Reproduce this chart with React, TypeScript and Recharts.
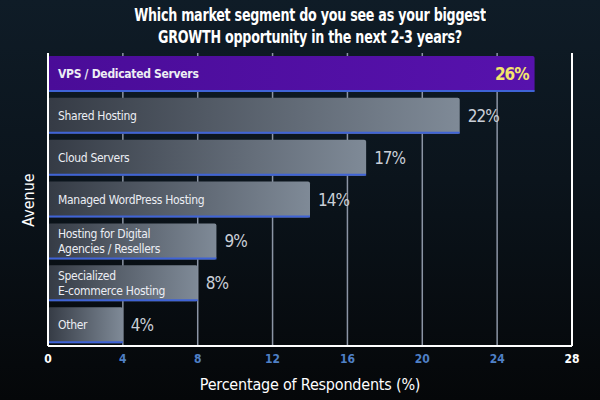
import React from "react";
import {
  BarChart,
  Bar,
  XAxis,
  YAxis,
  CartesianGrid,
  ReferenceLine,
  LabelList,
} from "recharts";

const categories = [
  "VPS / Dedicated Servers",
  "Shared Hosting",
  "Cloud Servers",
  "Managed WordPress Hosting",
  "Hosting for Digital\nAgencies / Resellers",
  "Specialized\nE-commerce Hosting",
  "Other",
];
const values = [26, 22, 17, 14, 9, 8, 4];
const xTicks = [0, 4, 8, 12, 16, 20, 24, 28];
const highlighted = "VPS / Dedicated Servers";

const data = categories.map((name, i) => ({ name, value: values[i] }));

const FONT = '"DejaVu Sans Condensed", "DejaVu Sans", sans-serif';
const narrow = { fontStretch: "condensed" as const };

const BarShape = (props: any) => {
  const { x, y, width, height, payload } = props;
  const hot = payload.name === highlighted;
  return (
    <g>
      <rect
        x={x}
        y={y}
        width={width}
        height={height}
        rx={2}
        fill={hot ? "url(#purpleFill)" : "url(#grayFill)"}
      />
      <line
        x1={x}
        x2={x + width}
        y1={y + height - 1}
        y2={y + height - 1}
        stroke="#3f63d6"
        strokeWidth={2}
      />
    </g>
  );
};

const NameLabel = (props: any) => {
  const { x, y, height, value } = props;
  const lines = String(value).split("\n");
  const hot = value === highlighted;
  const lh = 15;
  const startY = y + height / 2 - ((lines.length - 1) * lh) / 2;
  return (
    <text
      x={x + 10}
      y={startY}
      fill="#eceef4"
      fontFamily={FONT}
      fontSize={12}
      fontWeight={hot ? 700 : 400}
      letterSpacing={-0.3}
      dominantBaseline="central"
      style={narrow}
    >
      {lines.map((l, i) => (
        <tspan key={i} x={x + 10} dy={i === 0 ? 0 : lh}>
          {l}
        </tspan>
      ))}
    </text>
  );
};

const ValueLabel = (props: any) => {
  const { x, y, width, height, value, index } = props;
  const hot = categories[index] === highlighted;
  return (
    <text
      x={hot ? x + width - 6 : x + width + 8}
      y={y + height / 2}
      fill={hot ? "#f3e56c" : "#c9ced7"}
      fontFamily={FONT}
      fontSize={17}
      fontWeight={hot ? 700 : 400}
      letterSpacing={-1}
      textAnchor={hot ? "end" : "start"}
      dominantBaseline="central"
      style={narrow}
    >
      {value}%
    </text>
  );
};

const XTick = (props: any) => {
  const { x, y, payload } = props;
  const edge = payload.value === 0 || payload.value === 28;
  return (
    <text
      x={x}
      y={y + 9}
      fill={edge ? "#ffffff" : "#4f80c6"}
      fontFamily={FONT}
      fontSize={12}
      fontWeight={700}
      textAnchor="middle"
      style={narrow}
    >
      {payload.value}
    </text>
  );
};

export default function App() {
  return (
    <div
      style={{
        position: "fixed",
        top: 0,
        left: 0,
        width: 600,
        height: 400,
        background:
          "linear-gradient(180deg, #0f1c27 0%, #0b141c 45%, #050709 100%)",
        fontFamily: FONT,
        fontStretch: "condensed",
      }}
    >
      <div
        style={{
          position: "absolute",
          top: 4,
          left: 0,
          width: 620,
          textAlign: "center",
          color: "#ffffff",
          fontSize: 17,
          fontWeight: 700,
          lineHeight: "22px",
          letterSpacing: -0.3,
          transform: "scaleX(0.83)",
        }}
      >
        Which market segment do you see as your biggest
        <br />
        GROWTH opportunity in the next 2-3 years?
      </div>
      <div
        style={{
          position: "absolute",
          left: 28,
          top: 200,
          transform: "translate(-50%, -50%) rotate(-90deg)",
          color: "#ffffff",
          fontSize: 16,
          whiteSpace: "nowrap",
        }}
      >
        Avenue
      </div>
      <div style={{ position: "absolute", top: 0, left: 0 }}>
        <BarChart
          width={600}
          height={400}
          data={data}
          layout="vertical"
          margin={{ top: 53, right: 28, bottom: 0, left: 48 }}
          barSize={36}
        >
          <defs>
            <linearGradient id="grayFill" x1="0" y1="0" x2="1" y2="0">
              <stop offset="0%" stopColor="#353b45" />
              <stop offset="100%" stopColor="#7f8a97" />
            </linearGradient>
            <linearGradient id="purpleFill" x1="0" y1="0" x2="1" y2="0">
              <stop offset="0%" stopColor="#4a0c98" />
              <stop offset="100%" stopColor="#5712ad" />
            </linearGradient>
          </defs>
          <CartesianGrid
            horizontal={false}
            stroke="#8c95a5"
            strokeWidth={1.5}
          />
          <XAxis
            type="number"
            domain={[0, 28]}
            ticks={xTicks}
            interval={0}
            height={54}
            axisLine={{ stroke: "#ffffff", strokeWidth: 2 }}
            tickLine={false}
            tick={<XTick />}
            label={{
              value: "Percentage of Respondents (%)",
              position: "insideBottom",
              offset: 10,
              fill: "#ffffff",
              fontSize: 16,
              fontFamily: FONT,
              style: { ...narrow, letterSpacing: -0.2 },
            }}
          />
          <YAxis type="category" dataKey="name" hide />
          <ReferenceLine x={0} stroke="#ffffff" strokeWidth={2} />
          <ReferenceLine x={28} stroke="#ffffff" strokeWidth={2} />
          <Bar dataKey="value" shape={<BarShape />} isAnimationActive={false}>
            <LabelList dataKey="name" content={<NameLabel />} />
            <LabelList dataKey="value" content={<ValueLabel />} />
          </Bar>
        </BarChart>
      </div>
    </div>
  );
}
